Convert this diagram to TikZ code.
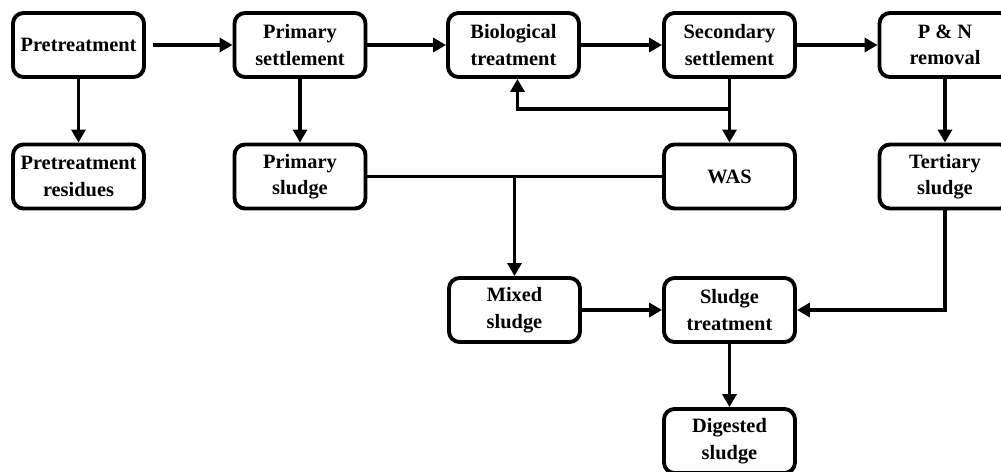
\documentclass[tikz,border=0pt]{standalone}
\usepackage{fontspec}
\setmainfont{Liberation Serif}
\usepackage{tikz}
\usetikzlibrary{arrows.meta, positioning, calc}

\begin{document}
\begin{tikzpicture}[
  stage/.style={draw, line width=2.2pt, rounded corners=6pt, minimum width=2.62cm,
                minimum height=1.28cm, align=center, inner sep=2pt,
                font=\fontsize{11.6}{15}\selectfont\bfseries},
  flow/.style={line width=2.2pt, -{Triangle[length=2.6mm, width=2.8mm]}},
  pipe/.style={line width=2.2pt},
]
\useasboundingbox (0,0) rectangle (20.02,-9.44);

% Water line
\node[stage] (pre) at (1.57,-0.9) {Pretreatment};
\node[stage] (prim) at (6.0,-0.9) {Primary\\settlement};
\node[stage] (bio) at (10.27,-0.9) {Biological\\treatment};
\node[stage] (sec) at (14.59,-0.9) {Secondary\\settlement};
\node[stage] (pn) at (18.9,-0.9) {P \& N\\removal};

\draw[flow, shorten <=0.14cm] (pre) -- (prim);
\draw[flow] (prim) -- (bio);
\draw[flow] (bio) -- (sec);
\draw[flow] (sec) -- (pn);

% Residues and sludges
\node[stage] (res) at (1.57,-3.53) {Pretreatment\\residues};
\node[stage] (psl) at (6.0,-3.53) {Primary\\sludge};
\node[stage] (was) at (14.59,-3.53) {WAS};
\node[stage] (ter) at (18.9,-3.53) {Tertiary\\sludge};

\draw[flow] (pre) -- (res);
\draw[flow] (prim) -- (psl);
\draw[flow] (sec) -- (was);
\draw[flow] (pn) -- (ter);

% Recycle to biological treatment
\draw[flow] (sec.south) -- ++(0,-0.6) -| ([xshift=0.08cm]bio.south);

% Sludge line
\node[stage] (mix) at (10.29,-6.2) {Mixed\\sludge};
\node[stage] (trt) at (14.59,-6.2) {Sludge\\treatment};
\node[stage] (dig) at (14.59,-8.82) {Digested\\sludge};

\draw[pipe] (psl) -- (was);
\draw[flow] (psl.east -| mix.north) -- (mix.north);
\draw[flow] (mix) -- (trt);
\draw[flow] (ter.south) |- (trt.east);
\draw[flow] (trt) -- (dig);
\end{tikzpicture}
\end{document}
